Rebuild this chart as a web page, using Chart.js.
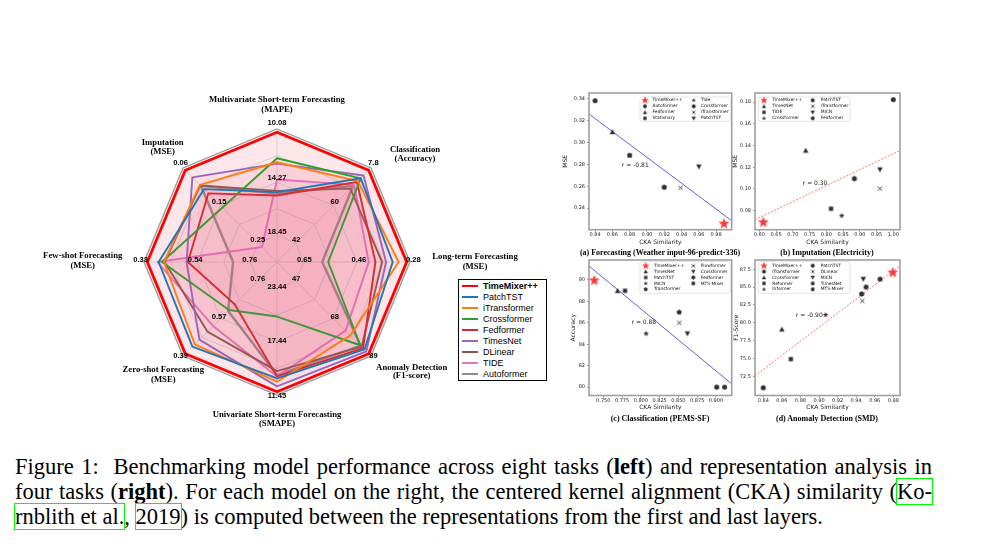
<!DOCTYPE html>
<html>
<head>
<meta charset="utf-8">
<script src="https://cdn.jsdelivr.net/npm/chart.js@4"></script>
<style>
html,body{margin:0;padding:0;background:#fff;}
body{width:1001px;height:547px;position:relative;overflow:hidden;}
canvas{position:absolute;}
.sub{position:absolute;font:bold 8px "Liberation Serif",serif;white-space:nowrap;transform:translate(-50%,-50%);color:#000;}
.cap{position:absolute;left:15px;font:22.5px/25px "Liberation Serif",serif;white-space:nowrap;color:#000;display:inline-block;}
.lk{outline:1.5px solid #00ff00;outline-offset:0px;}
#rlegend{position:absolute;left:458px;top:279px;width:87px;height:100px;border:1px solid #000;background:#fff;}
#rlegend .it{position:absolute;left:0;height:11px;width:87px;}
#rlegend .ln{position:absolute;left:3px;width:16px;}
#rlegend .tx{position:absolute;left:24px;font:9px "Liberation Sans",Arial,sans-serif;line-height:11px;top:0;white-space:nowrap;color:#000;}
</style>
</head>
<body>
<canvas id="radar" width="560" height="360" style="left:0;top:80px"></canvas>
<div id="rlegend"></div>
<canvas id="sa" width="182" height="164" style="left:555px;top:86px"></canvas>
<canvas id="sb" width="180" height="164" style="left:728px;top:86px"></canvas>
<canvas id="sc" width="182" height="164" style="left:555px;top:253px"></canvas>
<canvas id="sd" width="180" height="164" style="left:728px;top:253px"></canvas>
<div class="sub" style="left:660px;top:251.5px">(a) Forecasting (Weather input-96-predict-336)</div>
<div class="sub" style="left:827px;top:251.5px">(b) Imputation (Electricity)</div>
<div class="sub" style="left:660px;top:417.5px">(c) Classification (PEMS-SF)</div>
<div class="sub" style="left:827px;top:417.5px">(d) Anomaly Detection (SMD)</div>
<div id="cap1" class="cap" style="top:454px">Figure 1:&nbsp; Benchmarking model performance across eight tasks (<b>left</b>) and representation analysis in</div>
<div id="cap2" class="cap" style="top:479px">four tasks (<b>right</b>). For each model on the right, the centered kernel alignment (CKA) similarity (<span class="lk">Ko-</span></div>
<div id="cap3" class="cap" style="top:504px"><span class="lk">rnblith et al.</span>, <span class="lk">2019</span>) is computed between the representations from the first and last layers.</div>
<script>
// ---------------- Radar data ----------------
const radarAxes = ['Multivariate Short-term Forecasting','Classification','Long-term Forecasting','Anomaly Detection','Univariate Short-term Forecasting','Zero-shot Forecasting','Few-shot Forecasting','Imputation'];
const radarMetrics = ['(MAPE)','(Accuracy)','(MSE)','(F1-score)','(SMAPE)','(MSE)','(MSE)','(MSE)'];
const radarTickLabels = [
  ['10.08','14.27','18.45'],
  ['7.8','60','42'],
  ['0.28','0.46','0.65'],
  ['89','68','47'],
  ['11.45','17.44','23.44'],
  ['0.39','0.57','0.76'],
  ['0.33','0.54','0.76'],
  ['0.06','0.15','0.25']
];
const radarModels = ['TimeMixer++','PatchTST','iTransformer','Crossformer','Fedformer','TimesNet','DLinear','TIDE','Autoformer'];
const radarColors = ['#ff0000','#1f77b4','#ff7f0e','#2ca02c','#d62728','#9467bd','#8c564b','#e377c2','#8c8c8c'];
// normalised scores per axis (1 = outer ring), axis order as radarAxes
const scoreTimeMixer   = [0.975,0.975,0.975,0.975,0.975,0.975,0.975,0.975];
const scorePatchTST    = [0.525,0.89,0.87,0.93,0.875,0.90,0.89,0.775];
const scoreITransformer= [0.75,0.86,0.915,0.78,0.90,0.875,0.85,0.82];
const scoreCrossformer = [0.78,0.89,0.385,0.885,0.41,0.51,0.865,0.58];
const scoreFedformer   = [0.50,0.85,0.74,0.915,0.86,0.45,0.67,0.73];
const scoreTimesNet    = [0.74,0.92,0.82,0.95,0.935,0.825,0.68,0.90];
const scoreDLinear     = [0.535,0.78,0.79,0.90,0.82,0.74,0.845,0.815];
const scoreTIDE        = [0.62,0.82,0.69,0.73,0.86,0.68,0.90,0.16];
const scoreAutoformer  = [0.515,0.81,0.34,0.89,0.85,0.52,0.33,0.81];

// ---------------- Scatter data ----------------
// (a) Forecasting (Weather input-96-predict-336)
const aModels = ['TimeMixer++','Autoformer','Fedformer','Stationary','Tide','Crossformer','iTransformer','PatchTST'];
const aCKA = [0.989,0.840,0.860,0.880,0.880,0.920,0.939,0.960];
const aMSE = [0.2256,0.3384,0.3098,0.2883,0.2883,0.2590,0.2585,0.2779];
const aXTicks = [0.84,0.86,0.88,0.90,0.92,0.94,0.96,0.98];
const aYTicks = [0.24,0.26,0.28,0.30,0.32,0.34];
const aFitX = [0.833,0.998];
const aFitY = [0.3262,0.2283];
// (b) Imputation (Electricity)
const bModels = ['TimeMixer++','TimesNet','TiDE','Crossformer','PatchTST','iTransformer','MICN','Fedformer'];
const bCKA = [0.612,0.7385,0.814,0.846,0.8836,0.960,0.960,1.000];
const bMSE = [0.0693,0.1354,0.0818,0.0754,0.1095,0.1003,0.1178,0.1822];
const bXTicks = [0.60,0.65,0.70,0.75,0.80,0.85,0.90,0.95,1.00];
const bYTicks = [0.08,0.10,0.12,0.14,0.16,0.18];
const bFitX = [0.587,1.02];
const bFitY = [0.0717,0.1354];
// (c) Classification (PEMS-SF)
const cModels = ['TimeMixer++','TimesNet','PatchTST','MICN','Transformer','Flowformer','Crossformer','Fedformer','MTS-Mixer'];
const cCKA = [0.738,0.769,0.779,0.807,0.851,0.851,0.862,0.901,0.9115];
const cAcc = [89.94,88.98,88.98,84.99,86.98,86.0,84.99,80.0,80.0];
const cXTicks = [0.750,0.775,0.800,0.825,0.850,0.875,0.900];
const cYTicks = [80,82,84,86,88,90];
const cFitX = [0.731,0.921];
const cFitY = [91.29,80.30];
// (d) Anomaly Detection (SMD)
const dModels = ['TimeMixer++','iTransformer','Crossformer','Reformer','Informer','PatchTST','DLinear','MICN','TimesNet','MTS-Mixer'];
const dCKA = [0.9794,0.840,0.860,0.8697,0.907,0.9459,0.9466,0.9477,0.9506,0.9657];
const dF1 = [87.03,70.88,79.07,74.9,81.11,84.03,83.06,86.11,85.0,86.11];
const dXTicks = [0.84,0.86,0.88,0.90,0.92,0.94,0.96,0.98];
const dYTicks = [72.5,75.0,77.5,80.0,82.5,85.0,87.5];
const dFitX = [0.8311,0.9872];
const dFitY = [72.58,87.96];

// ---------------- Radar chart ----------------
const radarScores = [scoreTimeMixer,scorePatchTST,scoreITransformer,scoreCrossformer,scoreFedformer,scoreTimesNet,scoreDLinear,scoreTIDE,scoreAutoformer];
const tickFrac = [1.025,0.615,0.205];
// title anchor offsets from radar centre: [dx, dyLine1, dyLine2]
const titleOff = [[0,-162,-152.5],[138,-112.5,-103.5],[198,-5,4.5],[134.7,105.3,114],[0,152.3,161.7],[-113.7,108,117.3],[-194.3,-6,3.7],[-114.3,-119.7,-110.3]];

const radarDecor = {
  id:'radarDecor',
  beforeDraw(chart){
    const s = chart.scales.r, ctx = chart.ctx;
    ctx.save(); ctx.beginPath();
    for(let i=0;i<radarAxes.length;i++){const p=s.getPointPosition(i,s.drawingArea); i?ctx.lineTo(p.x,p.y):ctx.moveTo(p.x,p.y);}
    ctx.closePath(); ctx.fillStyle='#fde7eb'; ctx.fill(); ctx.restore();
  },
  afterDraw(chart){
    const s = chart.scales.r, ctx = chart.ctx;
    ctx.save(); ctx.fillStyle='#000'; ctx.textAlign='center'; ctx.textBaseline='middle';
    ctx.font='bold 7.6px "Liberation Sans", Arial, sans-serif';
    radarTickLabels.forEach((labs,i)=>labs.forEach((t,k)=>{const p=s.getPointPosition(i,s.drawingArea*tickFrac[k]); ctx.fillText(t,p.x,p.y-2.5);}));
    ctx.font='bold 8.7px "Liberation Serif", serif';
    titleOff.forEach((o,i)=>{ctx.fillText(radarAxes[i],s.xCenter+o[0],s.yCenter+o[1]); ctx.fillText(radarMetrics[i],s.xCenter+o[0],s.yCenter+o[2]);});
    ctx.restore();
  }
};

new Chart(document.getElementById('radar'),{
  type:'radar',
  data:{labels:radarAxes, datasets: radarModels.map((m,i)=>({
    label:m, data:radarScores[i], borderColor:radarColors[i],
    borderWidth: i===0?2.8:(i===8?2.4:1.9),
    backgroundColor: i===0?'rgba(0,0,0,0)':'rgba(240,100,130,0.055)',
    fill: i!==0, pointRadius:0, tension:0, borderJoinStyle:'round'
  }))},
  options:{
    responsive:false, animation:false, devicePixelRatio:1,
    layout:{padding:{left:144,right:150,top:49,bottom:45}},
    plugins:{legend:{display:false},tooltip:{enabled:false}},
    scales:{r:{min:0,max:1,ticks:{display:false,stepSize:0.2},pointLabels:{display:false},
      grid:{color:c=>c.index===5?'#9a9a9a':'#c6c6c6',lineWidth:c=>c.index===5?1.3:0.8},
      angleLines:{color:'#c6c6c6',lineWidth:0.8}}}
  },
  plugins:[radarDecor]
});

// radar legend (HTML)
(function(){
  const box=document.getElementById('rlegend');
  radarModels.forEach((m,i)=>{
    const it=document.createElement('div'); it.className='it'; it.style.top=(0.5+i*11.04)+'px';
    const ln=document.createElement('div'); ln.className='ln';
    const lw = i===0?2.5:2; ln.style.height=lw+'px'; ln.style.top=(5.5-lw/2)+'px'; ln.style.background=radarColors[i];
    const tx=document.createElement('div'); tx.className='tx'; tx.textContent=m; if(i===0) tx.style.fontWeight='bold';
    it.appendChild(ln); it.appendChild(tx); box.appendChild(it);
  });
})();

// ---------------- markers ----------------
function markerCanvas(shape,size,color){
  const s=Math.ceil(size+4), c=document.createElement('canvas'); c.width=s; c.height=s;
  const g=c.getContext('2d'), cx=s/2, cy=s/2, r=size/2;
  g.fillStyle=color; g.strokeStyle=color; g.beginPath();
  const poly=(n,rot,inner)=>{const pts=inner?2*n:n; for(let k=0;k<pts;k++){const a=-Math.PI/2+rot+k*2*Math.PI/pts; const rr=inner&&(k%2)?r*inner:r; const x=cx+rr*Math.cos(a), y=cy+rr*Math.sin(a); k?g.lineTo(x,y):g.moveTo(x,y);} g.closePath(); g.fill();};
  switch(shape){
    case 'circle': g.arc(cx,cy,r,0,2*Math.PI); g.fill(); break;
    case 'square': g.fillRect(cx-r*0.85,cy-r*0.85,r*1.7,r*1.7); break;
    case 'triUp': g.moveTo(cx,cy-r); g.lineTo(cx+r,cy+r*0.8); g.lineTo(cx-r,cy+r*0.8); g.closePath(); g.fill(); break;
    case 'triDown': g.moveTo(cx,cy+r); g.lineTo(cx+r,cy-r*0.8); g.lineTo(cx-r,cy-r*0.8); g.closePath(); g.fill(); break;
    case 'x': g.lineWidth=Math.max(0.9,size/5); g.moveTo(cx-r*0.8,cy-r*0.8); g.lineTo(cx+r*0.8,cy+r*0.8); g.moveTo(cx+r*0.8,cy-r*0.8); g.lineTo(cx-r*0.8,cy+r*0.8); g.stroke(); break;
    case 'star': poly(5,0,0.42); break;
    case 'hexagon': poly(6,0,0); break;
    case 'pentagon': poly(5,0,0); break;
  }
  return c;
}
const MK='#2e2e2e', RED='rgba(255,40,40,0.92)';
function mk(shape,legend){
  if(shape==='bigStar') return markerCanvas('star',legend?8:11.5,RED);
  if(shape==='star') return markerCanvas('star',legend?4.6:6,MK);
  const sz={circle:5,square:5,triUp:5.5,triDown:5.5,x:5,hexagon:5.6,pentagon:5.6}[shape];
  return markerCanvas(shape,legend?sz*0.78:sz,MK);
}

// ---------------- scatter factory ----------------
function scatter(id,o){
  const pts = o.models.map((m,i)=>({label:m, data:[{x:o.xs[i],y:o.ys[i]}], pointStyle:mk(o.shapes[i],false), pointRadius:3, order:0}));
  pts.push({type:'line', label:'fit', data:[{x:o.fitX[0],y:o.fitY[0]},{x:o.fitX[1],y:o.fitY[1]}], borderColor:o.fitColor, borderWidth:0.8, borderDash:o.fitDash, pointRadius:0, order:1, showLine:true, fill:false});
  const legendMarks = o.shapes.map(s=>mk(s,true));
  const deco = {
    id:'deco_'+id,
    afterDraw(chart){
      const ca=chart.chartArea, ctx=chart.ctx, xs=chart.scales.x, ys=chart.scales.y;
      ctx.save();
      // frame
      ctx.strokeStyle='#a0a0a0'; ctx.lineWidth=1.6; ctx.strokeRect(ca.left,ca.top,ca.right-ca.left,ca.bottom-ca.top);
      // r annotation
      ctx.fillStyle='#222'; ctx.font='6px "DejaVu Sans", sans-serif'; ctx.textAlign='left'; ctx.textBaseline='middle';
      ctx.fillText(o.rText, xs.getPixelForValue(o.rPos[0]), ys.getPixelForValue(o.rPos[1]));
      // legend
      const L=o.legend, x0=ca.left+L.x, y0=ca.top+L.y;
      ctx.beginPath(); ctx.roundRect(x0,y0,L.w,L.h,1.5); ctx.fillStyle='rgba(255,255,255,0.85)'; ctx.fill();
      ctx.strokeStyle='#d0d0d0'; ctx.lineWidth=0.6; ctx.stroke();
      ctx.font='4.4px "DejaVu Sans", sans-serif'; ctx.fillStyle='#111';
      o.models.forEach((m,i)=>{
        const col = i<L.rows?0:1, row = i<L.rows?i:i-L.rows;
        const my = y0+L.r0+row*L.dy, mxp = x0+L.mx[col];
        const im=legendMarks[i]; ctx.drawImage(im, mxp-im.width/2, my-im.height/2);
        ctx.fillText(m, x0+L.tx[col], my);
      });
      ctx.restore();
    }
  };
  const tickOpts=(dec)=>({callback:v=>Number(v).toFixed(dec), font:{size:5,family:'DejaVu Sans'}, color:'#222', maxRotation:0, autoSkip:false});
  return new Chart(document.getElementById(id),{
    type:'scatter',
    data:{datasets:pts},
    options:{
      responsive:false, animation:false, devicePixelRatio:1,
      layout:{padding:o.pad},
      plugins:{legend:{display:false},tooltip:{enabled:false}},
      scales:{
        x:{type:'linear',min:o.xr[0],max:o.xr[1],
          afterBuildTicks:a=>{a.ticks=o.xTicks.map(v=>({value:v}));},
          ticks:Object.assign(tickOpts(o.xDec),{padding:0}),
          grid:{display:true,drawOnChartArea:false,drawTicks:true,tickLength:2,color:'#555',lineWidth:0.6},
          border:{display:false},
          title:{display:true,text:'CKA Similarity',font:{size:6,family:'DejaVu Sans'},color:'#222',padding:0},
          afterFit:s=>{s.height=16;}},
        y:{type:'linear',min:o.yr[0],max:o.yr[1],
          afterBuildTicks:a=>{a.ticks=o.yTicks.map(v=>({value:v}));},
          ticks:Object.assign(tickOpts(o.yDec),{padding:2}),
          grid:{display:true,drawOnChartArea:false,drawTicks:true,tickLength:2,color:'#555',lineWidth:0.6},
          border:{display:false},
          title:{display:true,text:o.yTitle,font:{size:6,family:'DejaVu Sans'},color:'#222',padding:0},
          afterFit:s=>{s.width=o.yW;}}
      }
    },
    plugins:[deco]
  });
}

scatter('sa',{models:aModels,xs:aCKA,ys:aMSE,shapes:['bigStar','circle','triUp','square','star','hexagon','x','triDown'],
  fitX:aFitX,fitY:aFitY,fitColor:'#3b3bc4',fitDash:[],xTicks:aXTicks,yTicks:aYTicks,xDec:2,yDec:2,
  xr:[0.833,0.998],yr:[0.2201,0.3455],yTitle:'MSE',yW:27.6,pad:{left:6.4,right:5.3,top:7,bottom:4.3},
  rText:'r = -0.81',rPos:[0.871,0.279],
  legend:{x:51,y:4,w:90,h:24.3,rows:4,r0:3.3,dy:6,mx:[5,53.7],tx:[12.5,61]}});
scatter('sb',{models:bModels,xs:bCKA,ys:bMSE,shapes:['bigStar','triUp','square','star','hexagon','x','triDown','circle'],
  fitX:bFitX,fitY:bFitY,fitColor:'rgba(255,50,50,0.85)',fitDash:[2,1.5],xTicks:bXTicks,yTicks:bYTicks,xDec:2,yDec:2,
  xr:[0.587,1.02],yr:[0.0625,0.1883],yTitle:'MSE',yW:22.9,pad:{left:4.1,right:8,top:7,bottom:4.3},
  rText:'r = 0.30',rPos:[0.7296,0.1049],
  legend:{x:3.3,y:4,w:91.7,h:24.3,rows:4,r0:3.3,dy:6,mx:[5.7,54.4],tx:[14,62.4]}});
scatter('sc',{models:cModels,xs:cCKA,ys:cAcc,shapes:['bigStar','triUp','square','star','pentagon','x','triDown','hexagon','circle'],
  fitX:cFitX,fitY:cFitY,fitColor:'#3b3bc4',fitDash:[],xTicks:cXTicks,yTicks:cYTicks,xDec:3,yDec:0,
  xr:[0.731,0.921],yr:[79.22,91.85],yTitle:'Accuracy',yW:19.3,pad:{left:14.7,right:5.3,top:7,bottom:5.5},
  rText:'r = 0.88',rPos:[0.7876,86.06],
  legend:{x:51,y:1.7,w:90,h:31.6,rows:5,r0:4,dy:5.9,mx:[5.7,53.3],tx:[14,60.7]}});
scatter('sd',{models:dModels,xs:dCKA,ys:dF1,shapes:['bigStar','hexagon','triUp','square','star','hexagon','x','triDown','circle','circle'],
  fitX:dFitX,fitY:dFitY,fitColor:'rgba(255,50,50,0.85)',fitDash:[2,1.5],xTicks:dXTicks,yTicks:dYTicks,xDec:2,yDec:1,
  xr:[0.8311,0.9872],yr:[69.8,88.79],yTitle:'F1-Score',yW:21.9,pad:{left:5.1,right:8,top:7,bottom:5.5},
  rText:'r = -0.90',rPos:[0.8751,81.06],
  legend:{x:3.3,y:1.7,w:91.7,h:31.6,rows:5,r0:4,dy:5.9,mx:[5.7,54.4],tx:[14,62.4]}});

// ---------------- caption justification ----------------
function justify(id,target){
  const el=document.getElementById(id); el.style.wordSpacing='0px';
  const w=el.getBoundingClientRect().width; const n=(el.textContent.match(/[ \u00a0]/g)||[]).length;
  el.style.wordSpacing=((target-w)/n)+'px';
}
justify('cap1',917); justify('cap2',917);
</script>
</body>
</html>
